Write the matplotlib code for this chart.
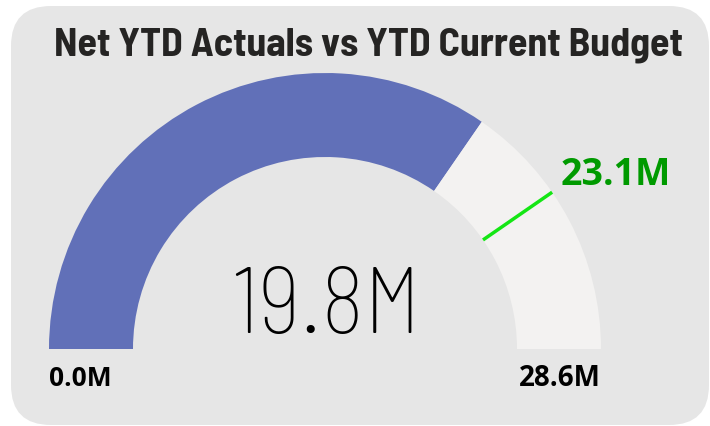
import numpy as np
import matplotlib
matplotlib.use("Agg")
from matplotlib import pyplot as plt
from matplotlib.patches import Wedge, FancyBboxPatch

# gauge data (millions)
title = "Net YTD Actuals vs YTD Current Budget"
gauge_min = 0.0
gauge_max = 28.6
actual = 19.8
target = 23.1

blue = "#6170b8"
rest = "#f3f2f1"
bg = "#e6e6e6"

title_font = ["Barlow Semi Condensed", "Barlow Condensed", "DejaVu Sans"]
value_font = ["Barlow Semi Condensed", "Roboto", "DejaVu Sans"]
label_font = ["Open Sans", "DejaVu Sans"]

fig = plt.figure(figsize=(7.1, 4.26), dpi=100)
ax = fig.add_axes([0, 0, 1, 1])
ax.set_xlim(0, 710)
ax.set_ylim(0, 426)
ax.axis("off")

# card background
card = FancyBboxPatch((11, 1), 698, 419, boxstyle="round,pad=0,rounding_size=40",
                      fc=bg, ec="none")
ax.add_patch(card)

cx, cy = 325, 77
r_out, r_in = 276, 192

def to_angle(v):
	return 180 - 180 * (v - gauge_min) / (gauge_max - gauge_min)

a_val = to_angle(actual)
ax.add_patch(Wedge((cx, cy), r_out, a_val, 180, width=r_out - r_in, fc=blue, ec="none"))
ax.add_patch(Wedge((cx, cy), r_out, 0, a_val, width=r_out - r_in, fc=rest, ec="none"))

# target marker
a_t = np.radians(to_angle(target))
ax.plot([cx + r_in * np.cos(a_t), cx + r_out * np.cos(a_t)],
        [cy + r_in * np.sin(a_t), cy + r_out * np.sin(a_t)],
        color="#14e614", lw=2.5, solid_capstyle="butt")
ax.text(561, 251, "%.1fM" % target, color="#009a00", fontsize=27, fontweight="bold",
        family=label_font, ha="left", va="center")

ax.text(368, 381, title, fontsize=28.7, fontweight="bold", family=title_font,
        ha="center", va="center", color="#252423")
ax.text(cx + 1, 116, "%.1fM" % actual, fontsize=67, fontweight=200, family=value_font,
        ha="center", va="center", color="black")
ax.text(49, 48, "%.1fM" % gauge_min, fontsize=19, fontweight="bold", family=label_font,
        ha="left", va="center", color="black")
ax.text(601, 48, "%.1fM" % gauge_max, fontsize=20, fontweight="bold", family=label_font,
        ha="right", va="center", color="black")

fig.savefig("out.png", dpi=100, facecolor="white")
